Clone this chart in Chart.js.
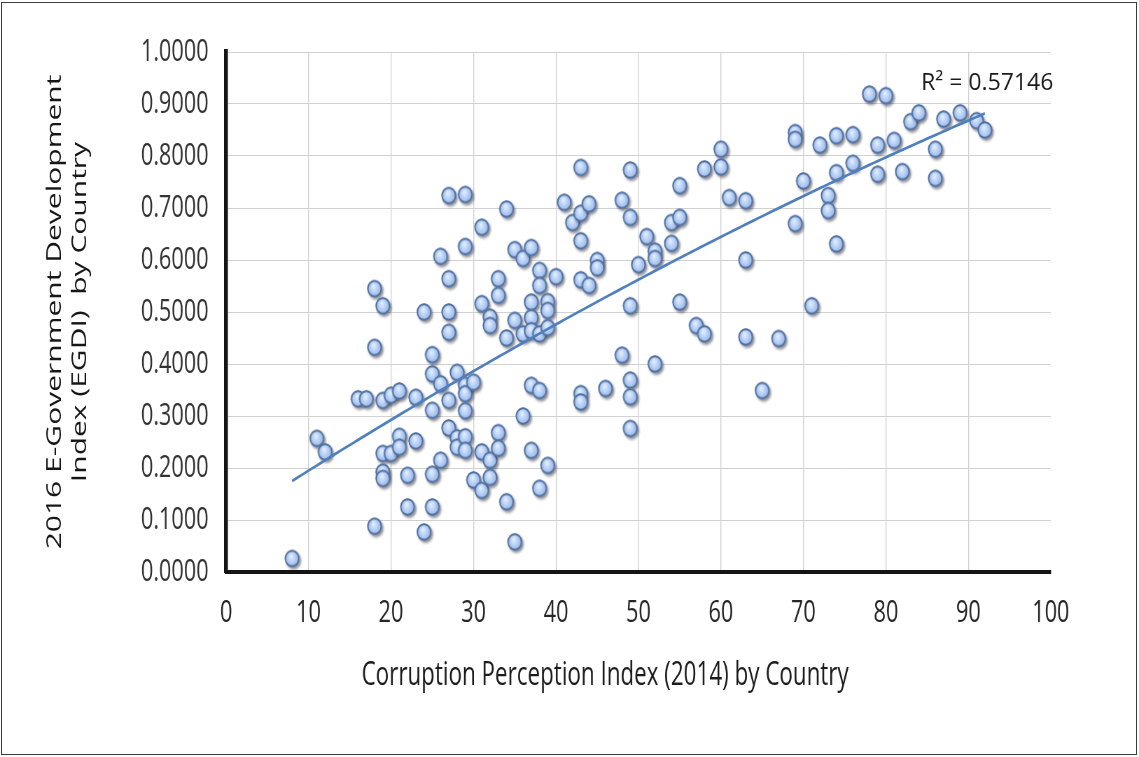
<!DOCTYPE html>
<html>
<head>
<meta charset="utf-8">
<script src="https://cdn.jsdelivr.net/npm/chart.js@4.4.1/dist/chart.umd.min.js"></script>
<style>
  html, body { margin: 0; padding: 0; background: #ffffff; overflow: hidden; }
  #wrap { position: absolute; left: 0; top: 0; width: 1627px; height: 757px;
          transform: scaleX(0.70006); transform-origin: 0 0; }
  #frame { position: absolute; left: 1px; top: 2px; width: 1134px; height: 751px;
           border: 1px solid #3c3c3c; pointer-events: none; }
</style>
</head>
<body>
<div id="wrap"><canvas id="chart" width="1627" height="757"></canvas></div>
<div id="frame"></div>
<script>
// Corruption Perception Index 2014 (x) against 2016 EGDI (y), one entry per country
const cpiScores = [
  8,
  11, 12,
  16, 17,
  18, 18, 18,
  19, 19, 19, 19, 19,
  20, 20,
  21, 21, 21,
  22, 22,
  23, 23,
  24, 24,
  25, 25, 25, 25, 25,
  26, 26, 26,
  27, 27, 27, 27, 27, 27,
  28, 28, 28,
  29, 29, 29, 29, 29, 29, 29,
  30, 30,
  31, 31, 31, 31,
  32, 32, 32, 32,
  33, 33, 33, 33,
  34, 34, 34,
  35, 35, 35,
  36, 36, 36,
  37, 37, 37, 37, 37, 37,
  38, 38, 38, 38, 38,
  39, 39, 39, 39,
  40, 41, 42,
  43, 43, 43, 43, 43, 43,
  44, 44,
  45, 45,
  46,
  48, 48,
  49, 49, 49, 49, 49, 49,
  50, 51,
  52, 52, 52,
  54, 54,
  55, 55, 55,
  57,
  58, 58,
  60, 60,
  61,
  63, 63, 63,
  65, 67,
  69, 69, 69,
  70, 71, 72,
  73, 73,
  74, 74, 74,
  76, 76,
  78,
  79, 79,
  80, 81, 82, 83, 84,
  86, 86,
  87, 89, 91, 92
];
const egdiScores = [
  0.026,
  0.257, 0.231,
  0.333, 0.333,
  0.545, 0.432, 0.088,
  0.512, 0.330, 0.228, 0.192, 0.180,
  0.340, 0.228,
  0.348, 0.261, 0.240,
  0.186, 0.125,
  0.336, 0.252,
  0.500, 0.077,
  0.418, 0.381, 0.311, 0.188, 0.125,
  0.607, 0.362, 0.215,
  0.724, 0.564, 0.500, 0.461, 0.330, 0.277,
  0.384, 0.258, 0.240,
  0.726, 0.626, 0.359, 0.343, 0.310, 0.260, 0.234,
  0.365, 0.177,
  0.663, 0.516, 0.231, 0.157,
  0.490, 0.474, 0.215, 0.182,
  0.564, 0.532, 0.268, 0.238,
  0.698, 0.450, 0.135,
  0.620, 0.484, 0.058,
  0.603, 0.458, 0.300,
  0.624, 0.519, 0.489, 0.464, 0.359, 0.234,
  0.580, 0.551, 0.458, 0.349, 0.161,
  0.520, 0.503, 0.470, 0.205,
  0.568, 0.711, 0.672,
  0.778, 0.690, 0.637, 0.562, 0.343, 0.327,
  0.708, 0.551,
  0.599, 0.585,
  0.353,
  0.715, 0.417,
  0.773, 0.682, 0.512, 0.369, 0.337, 0.276,
  0.591, 0.645,
  0.617, 0.603, 0.400,
  0.672, 0.632,
  0.743, 0.682, 0.519,
  0.474,
  0.775, 0.458,
  0.813, 0.779,
  0.720,
  0.714, 0.600, 0.452,
  0.349, 0.449,
  0.845, 0.832, 0.670,
  0.752, 0.512, 0.821,
  0.724, 0.695,
  0.839, 0.768, 0.631,
  0.841, 0.786,
  0.919,
  0.821, 0.765,
  0.916, 0.830, 0.770, 0.866, 0.883,
  0.813, 0.757,
  0.871, 0.883, 0.868, 0.850
];

const xTickValues = [0, 10, 20, 30, 40, 50, 60, 70, 80, 90, 100];
const xTickLabels = ['0', '10', '20', '30', '40', '50', '60', '70', '80', '90', '100'];
const yTickValues = [0, 0.1, 0.2, 0.3, 0.4, 0.5, 0.6, 0.7, 0.8, 0.9, 1.0];
const yTickLabels = ['0.0000', '0.1000', '0.2000', '0.3000', '0.4000', '0.5000',
                     '0.6000', '0.7000', '0.8000', '0.9000', '1.0000'];

const xAxisTitle = 'Corruption Perception Index (2014) by Country';
const yAxisTitle = ['2016 E-Government Development', 'Index (EGDI)  by Country'];
const rSquaredLabel = 'R² = 0.57146';

// the page is drawn wide and squeezed horizontally by this factor
const SQUEEZE = 1139 / 1627;

// least-squares second order polynomial through the scatter
function quadraticFit(xs, ys) {
  const s = [0, 0, 0, 0, 0], t = [0, 0, 0];
  for (let i = 0; i < xs.length; i++) {
    const x = xs[i], y = ys[i];
    let p = 1;
    for (let k = 0; k < 5; k++) { s[k] += p; if (k < 3) t[k] += p * y; p *= x; }
  }
  const m = [[s[0], s[1], s[2], t[0]], [s[1], s[2], s[3], t[1]], [s[2], s[3], s[4], t[2]]];
  for (let c = 0; c < 3; c++) {
    for (let r = c + 1; r < 3; r++) {
      const f = m[r][c] / m[c][c];
      for (let k = c; k < 4; k++) m[r][k] -= f * m[c][k];
    }
  }
  const coef = [0, 0, 0];
  for (let r = 2; r >= 0; r--) {
    let v = m[r][3];
    for (let k = r + 1; k < 3; k++) v -= m[r][k] * coef[k];
    coef[r] = v / m[r][r];
  }
  return coef;
}

const fit = quadraticFit(cpiScores, egdiScores);
const xMin = Math.min(...cpiScores), xMax = Math.max(...cpiScores);
const trendPoints = [];
for (let x = xMin; x <= xMax + 1e-9; x += 0.5) {
  trendPoints.push({ x, y: fit[0] + fit[1] * x + fit[2] * x * x });
}

// glossy pale-blue marker with a soft drop shadow
function makeMarker() {
  const c = document.createElement('canvas');
  c.width = 36; c.height = 32;
  const g = c.getContext('2d');
  const cx = 18, cy = 16, rx = 10.6, ry = 8.7;
  g.save();
  g.shadowColor = 'rgba(30,30,40,0.5)';
  g.shadowBlur = 3;
  g.shadowOffsetX = 2.2;
  g.shadowOffsetY = 2.2;
  g.beginPath();
  g.ellipse(cx, cy, rx, ry, 0, 0, Math.PI * 2);
  g.fillStyle = '#5f7db3';
  g.fill();
  g.restore();
  const grad = g.createRadialGradient(cx - 1.5, cy - 2.5, 0.5, cx, cy, rx);
  grad.addColorStop(0, '#e3efff');
  grad.addColorStop(0.55, '#afcaf3');
  grad.addColorStop(1, '#8eafe4');
  g.beginPath();
  g.ellipse(cx, cy, rx - 1.1, ry - 1.1, 0, 0, Math.PI * 2);
  g.fillStyle = grad;
  g.fill();
  g.lineWidth = 1.8;
  g.strokeStyle = '#53719f';
  g.stroke();
  return c;
}
const marker = makeMarker();

const overlayText = {
  id: 'overlayText',
  afterDraw(chart) {
    const ctx = chart.ctx;
    const area = chart.chartArea;
    ctx.save();
    ctx.fillStyle = '#1c1c1c';
    ctx.font = '32px "Open Sans", "DejaVu Sans", sans-serif';
    ctx.textAlign = 'center';
    ctx.textBaseline = 'alphabetic';
    ctx.fillText(xAxisTitle, area.left + (605 - 226) / SQUEEZE, 685);
    ctx.restore();

    // regression label keeps its natural proportions
    ctx.save();
    ctx.translate(area.left + (921 - 226) / SQUEEZE, 90);
    ctx.scale(1 / SQUEEZE, 1);
    ctx.fillStyle = '#1a1a1a';
    ctx.font = '23px "Open Sans", "DejaVu Sans", sans-serif';
    ctx.textAlign = 'left';
    ctx.textBaseline = 'alphabetic';
    ctx.fillText(rSquaredLabel, 0, 0);
    ctx.restore();
  }
};

new Chart(document.getElementById('chart'), {
  type: 'scatter',
  data: {
    datasets: [
      {
        label: 'Trend',
        data: trendPoints,
        showLine: true,
        borderColor: '#4f7fbc',
        borderWidth: 2.8,
        pointRadius: 0,
        tension: 0,
        order: 0
      },
      {
        label: 'Countries',
        data: cpiScores.map((x, i) => ({ x, y: egdiScores[i] })),
        pointStyle: marker,
        pointRadius: 9,
        order: 1
      }
    ]
  },
  options: {
    responsive: false,
    animation: false,
    devicePixelRatio: 1,
    layout: { padding: { top: 52, right: 126, bottom: 0, left: 0 } },
    plugins: { legend: { display: false }, tooltip: { enabled: false } },
    scales: {
      x: {
        type: 'linear',
        min: 0,
        max: 100,
        afterBuildTicks: (scale) => { scale.ticks = xTickValues.map(v => ({ value: v })); },
        afterFit: (scale) => { scale.height = 185; },
        ticks: {
          padding: 23,
          color: '#262626',
          font: { family: '"Open Sans", "DejaVu Sans", sans-serif', size: 31 },
          callback: (v, i) => xTickLabels[i]
        },
        grid: {
          drawTicks: false,
          lineWidth: 1.4,
          color: (c) => (c.tick && c.tick.value === 100 ? 'rgba(0,0,0,0)' : '#d2d2d2')
        },
        border: { display: true, color: '#141414', width: 4 }
      },
      y: {
        type: 'linear',
        min: 0,
        max: 1,
        afterBuildTicks: (scale) => { scale.ticks = yTickValues.map(v => ({ value: v })); },
        afterFit: (scale) => { scale.width = 323; },
        ticks: {
          padding: 25,
          color: '#333333',
          font: { family: '"Open Sans", "DejaVu Sans", sans-serif', size: 31 },
          callback: (v, i) => yTickLabels[i]
        },
        grid: { drawTicks: false, lineWidth: 1, color: '#d2d2d2' },
        border: { display: true, color: '#141414', width: 5.5 },
        title: {
          display: true,
          text: yAxisTitle,
          color: '#161616',
          font: { family: '"Open Sans", "DejaVu Sans", sans-serif', size: 30, weight: '500', lineHeight: 1.22 },
          padding: { top: 60, bottom: 0 }
        }
      }
    }
  },
  plugins: [overlayText]
});
</script>
</body>
</html>
